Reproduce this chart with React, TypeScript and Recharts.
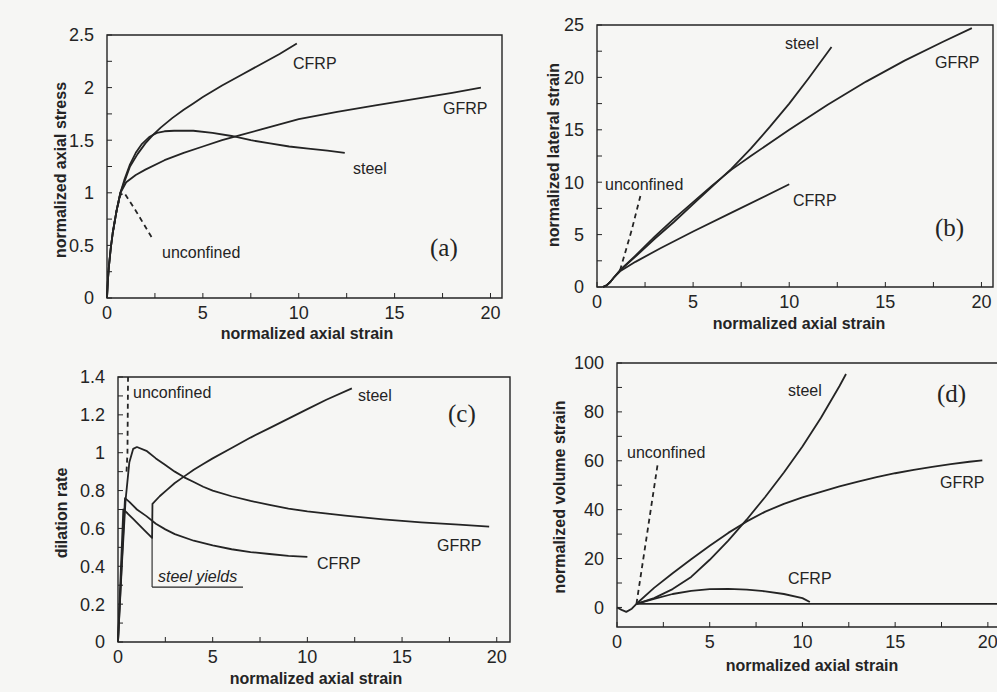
import { LineChart, Line, XAxis, YAxis, ReferenceArea, ReferenceLine } from "recharts"

type Pt = [number, number]

// (a) normalized axial stress vs normalized axial strain
const aCFRP: Pt[] = [[0, 0], [0.05, 0.18], [0.1, 0.3], [0.2, 0.48], [0.3, 0.62], [0.5, 0.83], [0.7, 1.0], [0.9, 1.1], [1.2, 1.25], [1.6, 1.37], [2, 1.47], [2.4, 1.55], [2.8, 1.62], [3.4, 1.71], [4, 1.79], [4.5, 1.85], [5, 1.91], [6, 2.02], [7, 2.12], [8, 2.22], [9, 2.32], [9.9, 2.42]]
const aSteel: Pt[] = [[0, 0], [0.05, 0.18], [0.1, 0.3], [0.2, 0.48], [0.3, 0.62], [0.5, 0.83], [0.7, 1.0], [0.9, 1.12], [1.2, 1.27], [1.5, 1.38], [1.8, 1.46], [2.2, 1.53], [2.6, 1.57], [3, 1.585], [3.5, 1.59], [4.5, 1.59], [5.5, 1.57], [6.5, 1.54], [7.5, 1.5], [8.5, 1.47], [9.5, 1.44], [10.5, 1.42], [11.5, 1.4], [12.4, 1.38]]
const aGFRP: Pt[] = [[0, 0], [0.05, 0.18], [0.1, 0.3], [0.2, 0.48], [0.3, 0.62], [0.5, 0.83], [0.7, 1.0], [1, 1.1], [1.5, 1.17], [2, 1.22], [3, 1.31], [4, 1.38], [5, 1.44], [6, 1.5], [7, 1.55], [8, 1.6], [9, 1.65], [10, 1.7], [12, 1.77], [14, 1.83], [16, 1.89], [18, 1.95], [19.5, 2.0]]
const aUnconfined: Pt[] = [[0.3, 0.62], [0.5, 0.83], [0.7, 0.98], [0.9, 1.0], [1.5, 0.83], [2.35, 0.57]]

// (b) normalized lateral strain
const bSteel: Pt[] = [[0.3, 0], [0.5, 0.15], [0.7, 0.5], [0.9, 0.95], [1.2, 1.6], [2, 2.9], [3, 4.6], [4, 6.2], [5, 7.9], [6, 9.6], [7, 11.3], [8, 13.2], [9, 15.3], [10, 17.5], [11, 19.9], [12.2, 22.9]]
const bGFRP: Pt[] = [[0.3, 0], [0.5, 0.15], [0.7, 0.5], [0.9, 0.95], [1.2, 1.6], [2, 3.0], [3, 4.8], [4, 6.5], [5, 8.1], [6, 9.7], [7, 11.2], [8, 12.5], [10, 15], [12, 17.4], [14, 19.6], [16, 21.6], [18, 23.4], [19.5, 24.7]]
const bCFRP: Pt[] = [[0.3, 0], [0.5, 0.15], [0.7, 0.5], [0.9, 0.95], [1.2, 1.5], [2, 2.4], [3.3, 3.7], [5, 5.3], [7, 7.1], [10, 9.8]]
const bUnconfined: Pt[] = [[1.2, 1.6], [1.8, 5.4], [2.3, 9.0]]

// (c) dilation rate
const cGFRP: Pt[] = [[0, 0], [0.2, 0.4], [0.4, 0.75], [0.6, 0.95], [0.8, 1.02], [1.0, 1.03], [1.5, 1.01], [2, 0.97], [2.5, 0.935], [3, 0.9], [3.5, 0.87], [4, 0.845], [4.5, 0.82], [5, 0.8], [6, 0.77], [7, 0.745], [8, 0.725], [9, 0.705], [10, 0.69], [12, 0.668], [14, 0.648], [16, 0.632], [18, 0.62], [19.6, 0.61]]
const cCFRP: Pt[] = [[0, 0], [0.2, 0.42], [0.37, 0.76], [0.6, 0.74], [1, 0.7], [1.5, 0.665], [2, 0.625], [2.5, 0.595], [3, 0.57], [4, 0.535], [5, 0.51], [6, 0.49], [7, 0.475], [8, 0.465], [9, 0.455], [10, 0.45]]
const cSteel: Pt[] = [[0, 0], [0.15, 0.38], [0.28, 0.7], [0.5, 0.68], [0.8, 0.65], [1.1, 0.62], [1.4, 0.59], [1.8, 0.55], [1.82, 0.73], [2.2, 0.77], [2.6, 0.805], [3, 0.84], [3.5, 0.875], [4, 0.91], [4.5, 0.94], [5, 0.97], [6, 1.025], [7, 1.08], [8, 1.13], [9, 1.18], [10, 1.23], [11, 1.28], [12.35, 1.34]]
const cUnconfined: Pt[] = [[0.45, 0.9], [0.5, 1.0], [0.53, 1.4]]
const cYieldCallout: Pt[] = [[1.8, 0.55], [1.8, 0.29], [6.6, 0.29]]

// (d) normalized volume strain
const dSteel: Pt[] = [[0, 0], [0.25, -1], [0.5, -1.8], [0.8, -0.5], [1.05, 1.5], [2, 3.8], [3, 7.5], [4, 12.5], [5, 19.5], [6, 27.3], [7, 36], [8, 45.3], [9, 55.2], [10, 65.8], [11, 77.6], [12, 90.6], [12.35, 95.5]]
const dGFRP: Pt[] = [[1.05, 1.5], [2, 8], [3, 14], [4, 19.7], [5, 25.2], [6, 30.5], [7, 35.2], [8, 39.2], [9, 42.4], [10, 45], [11, 47.3], [12, 49.5], [13, 51.5], [14, 53.3], [15, 54.9], [16, 56.3], [17, 57.5], [18, 58.6], [19, 59.6], [19.7, 60.2]]
const dCFRP: Pt[] = [[1.05, 1.5], [2, 3.5], [3, 5.5], [4, 6.8], [5, 7.5], [6, 7.6], [7, 7.3], [8, 6.6], [9, 5.5], [10, 3.8], [10.4, 2.2]]
const dBase: Pt[] = [[1.05, 1.5], [20.6, 1.5]]
const dUnconfined: Pt[] = [[1.05, 1.5], [2.2, 59]]

// ticks
const xTicks = [0, 2.5, 5, 7.5, 10, 12.5, 15, 17.5, 20]
const xLabels = [0, 5, 10, 15, 20]
const aYTicks = [0, 0.25, 0.5, 0.75, 1, 1.25, 1.5, 1.75, 2, 2.25, 2.5]
const aYLabels = [0, 0.5, 1, 1.5, 2, 2.5]
const bYTicks = [0, 2.5, 5, 7.5, 10, 12.5, 15, 17.5, 20, 22.5, 25]
const bYLabels = [0, 5, 10, 15, 20, 25]
const cYTicks = [0, 0.1, 0.2, 0.3, 0.4, 0.5, 0.6, 0.7, 0.8, 0.9, 1, 1.1, 1.2, 1.3, 1.4]
const cYLabels = [0, 0.2, 0.4, 0.6, 0.8, 1, 1.2, 1.4]
const dYTicks = [0, 10, 20, 30, 40, 50, 60, 70, 80, 90, 100]
const dYLabels = [0, 20, 40, 60, 80, 100]

const INK = "#242424"
const SANS = "'Liberation Sans', Arial, sans-serif"
const SERIF = "'Liberation Serif', 'Times New Roman', serif"

const toRows = (pts: Pt[]) => pts.map(([x, y]) => ({ x, y }))

type Series = { data: Pt[]; dashed?: boolean }

type PanelProps = {
  plot: { left: number; top: number; right: number; bottom: number }
  xMax: number
  yDomain: [number, number]
  yTicks: number[]
  yLabels: number[]
  series: Series[]
  callout?: Pt[]
}

function Panel({ plot, xMax, yDomain, yTicks, yLabels, series, callout }: PanelProps) {
  const yw = 60
  const xh = 40
  const mt = 14
  const width = plot.right - plot.left + yw + 5
  const height = plot.bottom - plot.top + xh + mt
  const tickStyle = { fill: INK, fontSize: 18, fontFamily: SANS }
  return (
    <div style={{ position: "absolute", left: plot.left - yw, top: plot.top - mt }}>
      <LineChart width={width} height={height} margin={{ top: mt, right: 5, bottom: 0, left: 0 }}>
        <XAxis
          type="number"
          dataKey="x"
          domain={[0, xMax]}
          ticks={xTicks}
          interval={0}
          axisLine={false}
          tickLine={{ stroke: INK, strokeWidth: 1 }}
          tickSize={-5}
          tickMargin={13}
          height={xh}
          tick={tickStyle}
          tickFormatter={(v: number) => (xLabels.includes(v) ? String(v) : "")}
        />
        <YAxis
          type="number"
          domain={yDomain}
          ticks={yTicks}
          interval={0}
          axisLine={false}
          tickLine={{ stroke: INK, strokeWidth: 1 }}
          tickSize={-5}
          tickMargin={18}
          width={yw}
          tick={tickStyle}
          tickFormatter={(v: number) => (yLabels.includes(v) ? String(v) : "")}
        />
        <ReferenceArea x1={0} x2={xMax} y1={yDomain[0]} y2={yDomain[1]} fill="none" stroke={INK} strokeWidth={1.4} fillOpacity={0} />
        {callout && (
          <ReferenceLine segment={[{ x: callout[0][0], y: callout[0][1] }, { x: callout[1][0], y: callout[1][1] }]} stroke={INK} strokeWidth={1.1} />
        )}
        {callout && (
          <ReferenceLine segment={[{ x: callout[1][0], y: callout[1][1] }, { x: callout[2][0], y: callout[2][1] }]} stroke={INK} strokeWidth={1.1} />
        )}
        {series.map((s, i) => (
          <Line
            key={i}
            data={toRows(s.data)}
            dataKey="y"
            type="linear"
            stroke={INK}
            strokeWidth={1.8}
            strokeDasharray={s.dashed ? "5 4" : undefined}
            strokeLinejoin="round"
            dot={false}
            activeDot={false}
            isAnimationActive={false}
          />
        ))}
      </LineChart>
    </div>
  )
}

type Note = { x: number; y: number; text: string; size?: number; serif?: boolean; italic?: boolean }

const notes: Note[] = [
  { x: 293, y: 63, text: "CFRP" },
  { x: 443, y: 108, text: "GFRP" },
  { x: 353, y: 168, text: "steel" },
  { x: 162, y: 252, text: "unconfined" },
  { x: 430, y: 247, text: "(a)", size: 25, serif: true },
  { x: 785, y: 43, text: "steel" },
  { x: 935, y: 62, text: "GFRP" },
  { x: 605, y: 184, text: "unconfined" },
  { x: 793, y: 200, text: "CFRP" },
  { x: 935, y: 227, text: "(b)", size: 25, serif: true },
  { x: 133, y: 392, text: "unconfined" },
  { x: 358, y: 395, text: "steel" },
  { x: 448, y: 413, text: "(c)", size: 25, serif: true },
  { x: 437, y: 545, text: "GFRP" },
  { x: 317, y: 563, text: "CFRP" },
  { x: 158, y: 576, text: "steel yields", italic: true },
  { x: 627, y: 452, text: "unconfined" },
  { x: 788, y: 390, text: "steel" },
  { x: 937, y: 393, text: "(d)", size: 25, serif: true },
  { x: 940, y: 482, text: "GFRP" },
  { x: 788, y: 578, text: "CFRP" },
]

type Title = { x: number; y: number; text: string; vertical?: boolean }

const titles: Title[] = [
  { x: 307, y: 333, text: "normalized axial strain" },
  { x: 60, y: 170, text: "normalized axial stress", vertical: true },
  { x: 799, y: 323, text: "normalized axial strain" },
  { x: 553, y: 155, text: "normalized lateral strain", vertical: true },
  { x: 316, y: 678, text: "normalized axial strain" },
  { x: 61, y: 513, text: "dilation rate", vertical: true },
  { x: 812, y: 665, text: "normalized axial strain" },
  { x: 559, y: 497, text: "normalized volume strain", vertical: true },
]

export default function App() {
  return (
    <div style={{ position: "absolute", left: 0, top: 0, width: 997, height: 692, overflow: "hidden", background: "#f6f6f4" }}>
      <Panel
        plot={{ left: 107, top: 35, right: 502, bottom: 298 }}
        xMax={20.6}
        yDomain={[0, 2.5]}
        yTicks={aYTicks}
        yLabels={aYLabels}
        series={[{ data: aCFRP }, { data: aSteel }, { data: aGFRP }, { data: aUnconfined, dashed: true }]}
      />
      <Panel
        plot={{ left: 597, top: 25, right: 993, bottom: 287 }}
        xMax={20.6}
        yDomain={[0, 25]}
        yTicks={bYTicks}
        yLabels={bYLabels}
        series={[{ data: bSteel }, { data: bGFRP }, { data: bCFRP }, { data: bUnconfined, dashed: true }]}
      />
      <Panel
        plot={{ left: 118, top: 377, right: 510, bottom: 642 }}
        xMax={20.7}
        yDomain={[0, 1.4]}
        yTicks={cYTicks}
        yLabels={cYLabels}
        series={[{ data: cGFRP }, { data: cCFRP }, { data: cSteel }, { data: cUnconfined, dashed: true }]}
        callout={cYieldCallout}
      />
      <Panel
        plot={{ left: 617, top: 363, right: 999, bottom: 627 }}
        xMax={20.6}
        yDomain={[-8, 100]}
        yTicks={dYTicks}
        yLabels={dYLabels}
        series={[{ data: dSteel }, { data: dGFRP }, { data: dCFRP }, { data: dBase }, { data: dUnconfined, dashed: true }]}
      />
      <svg width={997} height={692} style={{ position: "absolute", left: 0, top: 0, pointerEvents: "none" }}>
        {titles.map((t, i) => (
          <text
            key={i}
            x={t.x}
            y={t.y}
            textAnchor="middle"
            dominantBaseline="central"
            transform={t.vertical ? `rotate(-90 ${t.x} ${t.y})` : undefined}
            fontFamily={SANS}
            fontWeight="bold"
            fontSize={16}
            fill={INK}
          >
            {t.text}
          </text>
        ))}
        {notes.map((n, i) => (
          <text
            key={i}
            x={n.x}
            y={n.y}
            dominantBaseline="central"
            fontFamily={n.serif ? SERIF : SANS}
            fontStyle={n.italic ? "italic" : "normal"}
            fontSize={n.size ?? 16}
            fill={INK}
          >
            {n.text}
          </text>
        ))}
      </svg>
    </div>
  )
}
